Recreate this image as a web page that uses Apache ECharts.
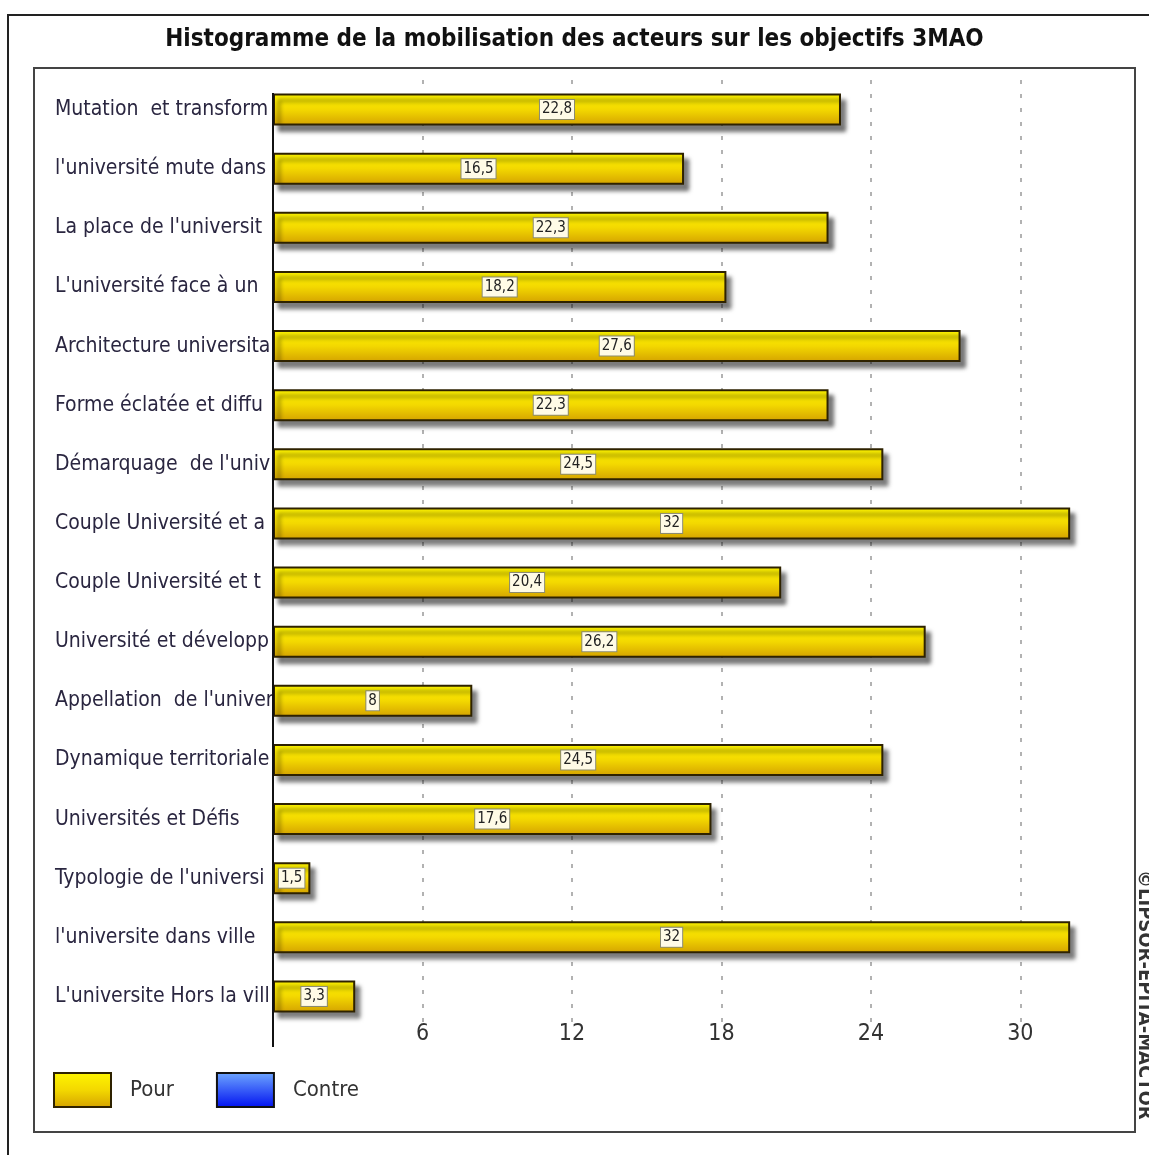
<!DOCTYPE html>
<html>
<head>
<meta charset="utf-8">
<script src="https://cdn.jsdelivr.net/npm/echarts@6/dist/echarts.min.js"></script>
<style>
  html, body { margin: 0; padding: 0; background: #fff; }
  #chart { width: 1149px; height: 1155px; }
</style>
</head>
<body>
<div id="chart"></div>
<script>
// données
const categories = [
    "Mutation  et transform",
    "l'université mute dans",
    "La place de l'universit",
    "L'université face à un",
    "Architecture universita",
    "Forme éclatée et diffu",
    "Démarquage  de l'univ",
    "Couple Université et a",
    "Couple Université et t",
    "Université et développ",
    "Appellation  de l'univer",
    "Dynamique territoriale",
    "Universités et Défis",
    "Typologie de l'universi",
    "l'universite dans ville",
    "L'universite Hors la vill"
];
const pourValues = [22.8, 16.5, 22.3, 18.2, 27.6, 22.3, 24.5, 32, 20.4, 26.2, 8, 24.5, 17.6, 1.5, 32, 3.3];
const contreValues = [];
const xTicks = [6, 12, 18, 24, 30];

const FONT = '"Liberation Sans Narrow", "DejaVu Sans Condensed", "Liberation Sans", sans-serif';

const chart = echarts.init(document.getElementById('chart'));

const yellow = new echarts.graphic.LinearGradient(0, 0, 0, 1, [
    { offset: 0, color: '#fff600' },
    { offset: 0.5, color: '#f3d800' },
    { offset: 1, color: '#d4a200' }
]);
const blue = new echarts.graphic.LinearGradient(0, 0, 0, 1, [
    { offset: 0, color: '#6fa8ff' },
    { offset: 1, color: '#0010f0' }
]);

const option = {
    animation: false,
    backgroundColor: '#fff',
    title: {
        text: 'Histogramme de la mobilisation des acteurs sur les objectifs 3MAO',
        left: 'center',
        top: 23,
        textStyle: { fontFamily: FONT, fontSize: 24, fontWeight: 'bold', color: '#111' }
    },
    legend: {
        left: 48,
        top: 1067,
        itemWidth: 57,
        itemHeight: 34,
        itemGap: 42,
        icon: 'rect',
        data: ['Pour', 'Contre'],
        textStyle: { fontFamily: FONT, fontSize: 22, color: '#333', padding: [0, 0, 0, 14] }
    },
    grid: { left: 273, right: 29, top: 80, bottom: 129 },
    xAxis: {
        type: 'value',
        min: 0,
        max: 34,
        interval: 6,
        axisLine: { show: false },
        axisTick: { show: false },
        axisLabel: {
            margin: -3,
            fontFamily: FONT,
            fontSize: 23,
            color: '#333',
            showMaxLabel: false,
            formatter: v => (xTicks.indexOf(v) >= 0 ? String(v) : '')
        },
        splitLine: {
            show: true,
            showMinLine: false,
            showMaxLine: false,
            lineStyle: { color: '#999', width: 1.5, type: [4, 10] }
        }
    },
    yAxis: {
        type: 'category',
        inverse: true,
        data: categories,
        axisLine: { show: false },
        axisTick: { show: false },
        axisLabel: {
            align: 'left',
            margin: 218,
            fontFamily: FONT,
            fontSize: 21,
            color: '#2a2640'
        }
    },
    series: [
        {
            name: 'Pour',
            type: 'bar',
            stack: 'total',
            barWidth: 32,
            data: pourValues,
            itemStyle: {
                color: yellow,
                borderColor: '#2e2200',
                borderWidth: 2,
                shadowColor: 'rgba(0,0,0,0.5)',
                shadowBlur: 4,
                shadowOffsetX: 5,
                shadowOffsetY: 6
            },
            label: {
                show: true,
                position: 'inside',
                formatter: p => String(p.value).replace('.', ','),
                fontFamily: FONT,
                fontSize: 15,
                color: '#222',
                backgroundColor: '#fffbe6',
                borderColor: '#8a8a70',
                borderWidth: 1,
                padding: [3, 2, 1, 2]
            }
        },
        {
            name: 'Contre',
            type: 'bar',
            stack: 'total',
            barWidth: 32,
            data: contreValues,
            itemStyle: { color: blue, borderColor: '#111', borderWidth: 2 }
        }
    ],
    graphic: [
        // cadre extérieur
        {
            type: 'polyline',
            shape: { points: [[1149, 15], [8, 15], [8, 1155]] },
            style: { stroke: '#222', lineWidth: 2, fill: null }
        },
        // cadre du graphique
        {
            type: 'rect',
            shape: { x: 34, y: 68, width: 1101, height: 1064 },
            style: { stroke: '#444', lineWidth: 2, fill: null }
        },
        // axe vertical
        {
            type: 'line',
            z: 10,
            shape: { x1: 273, y1: 93, x2: 273, y2: 1047 },
            style: { stroke: '#111', lineWidth: 2 }
        },
        {
            type: 'text',
            x: 1154,
            y: 870,
            rotation: -Math.PI / 2,
            style: {
                text: '©LIPSOR-EPITA-MACTOR',
                fontFamily: FONT,
                fontSize: 20,
                fontWeight: 'bold',
                fill: '#333'
            }
        }
    ]
};

chart.setOption(option);
</script>
</body>
</html>
